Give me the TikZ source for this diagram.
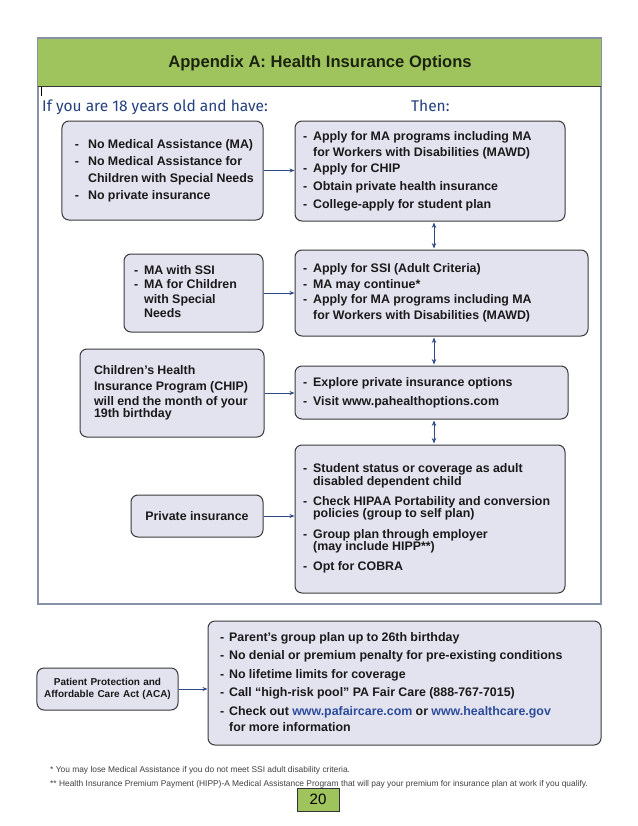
\documentclass[tikz,border=0pt]{standalone}
\usepackage{fontspec}
\setmainfont{Liberation Sans}
\newfontfamily\comic{Fira Sans}
\usetikzlibrary{arrows.meta}
\definecolor{hdrgreen}{HTML}{9FC45E}
\definecolor{framec}{HTML}{8792A8}
\definecolor{boxfill}{HTML}{E3E3F0}
\definecolor{boxline}{HTML}{3A3A3A}
\definecolor{arrc}{HTML}{2E4A86}
\definecolor{navy}{HTML}{24407E}
\definecolor{linkc}{HTML}{2B4C9B}
\definecolor{txt}{HTML}{1A1A1A}
\definecolor{hdrtxt}{HTML}{1C2410}
\newcommand\lst[3]{{\fontsize{12.4bp}{#1}\selectfont\begin{tabular}{@{}l@{\hspace{#2}}l@{}}#3\end{tabular}}}
\begin{document}
\begin{tikzpicture}[x=1bp,y=-1bp,
 box/.style={draw=boxline, fill=boxfill, line width=1bp, rounded corners=7bp, align=left, font=\bfseries, text=txt, inner ysep=0pt},
 arr/.style={draw=arrc, line width=0.9bp, -{Stealth[length=5bp,width=4bp]}},
 darr/.style={draw=arrc, line width=0.9bp, {Stealth[length=5.5bp,width=4.5bp]}-{Stealth[length=5.5bp,width=4.5bp]}, shorten <=1bp, shorten >=1bp},
 lbl/.style={inner sep=0pt, anchor=base west}]
\useasboundingbox (0,0) rectangle (638,826);
\fill[white] (0,0) rectangle (638,826);
% frame and header
\draw[framec, line width=2bp] (38,38) rectangle (601,604);
\fill[hdrgreen] (38,38) rectangle (601,86);
\draw[framec, line width=1bp] (38,38) -- (601,38) -- (601,86);
\draw[black!80, line width=1bp] (38,86) -- (601,86);
\node[inner sep=0pt, text=hdrtxt, font=\bfseries\fontsize{16.6bp}{18bp}\selectfont] (title) at (320,63) {Appendix A: Health Insurance Options};
\draw[black, line width=0.8bp] (41,87) -- (41,96);
\node[lbl, text=navy, font=\comic\fontsize{15.5bp}{17bp}\selectfont] (ifyou) at (42,111) {If you are 18 years old and have:};
\node[lbl, text=navy, font=\comic\fontsize{15.5bp}{17bp}\selectfont] (then) at (411,111) {Then:};
% left boxes
\node[box, minimum width=201bp, minimum height=99bp, text width=175bp, inner xsep=13bp] (A1) at (162.5,170.5)
 {\lst{17bp}{9bp}{- & No Medical Assistance (MA)\\ - & No Medical Assistance for\\ & Children with Special Needs\\ - & No private insurance}};
\node[box, minimum width=139bp, minimum height=78bp, text width=119bp, inner xsep=10bp] (A2) at (193.5,293)
 {\lst{14.5bp}{6bp}{- & MA with SSI\\ - & MA for Children\\ & with Special\\ & Needs}};
\node[box, minimum width=184bp, minimum height=88bp, text width=156bp, inner xsep=14bp] (A3) at (172,393)
 {\fontsize{12.4bp}{15.3bp}\selectfont Children’s Health\\Insurance Program (CHIP)\\will end the month of your\\19th birthday};
\node[box, minimum width=132bp, minimum height=42bp, text width=120bp, inner xsep=6bp, align=center] (A4) at (197,516)
 {\fontsize{12.4bp}{15bp}\selectfont Private insurance};
% right boxes
\node[box, minimum width=270bp, minimum height=100bp, text width=254bp, inner xsep=8bp] (B1) at (430,171)
 {\lst{16bp}{6bp}{- & Apply for MA programs including MA\\ & for Workers with Disabilities (MAWD)\\ - & Apply for CHIP\\[2bp] - & Obtain private health insurance\\[2bp] - & College-apply for student plan}};
\node[box, minimum width=293bp, minimum height=86bp, text width=277bp, inner xsep=8bp] (B2) at (441.5,293)
 {\lst{15.5bp}{6bp}{- & Apply for SSI (Adult Criteria)\\ - & MA may continue*\\ - & Apply for MA programs including MA\\ & for Workers with Disabilities (MAWD)}};
\node[box, minimum width=273bp, minimum height=53bp, text width=257bp, inner xsep=8bp] (B3) at (431.5,392.5)
 {\lst{19bp}{6bp}{- & Explore private insurance options\\ - & Visit www.pahealthoptions.com}};
\node[box, minimum width=270bp, minimum height=148bp, text width=254bp, inner xsep=8bp] (B4) at (430,519)
 {\lst{12.7bp}{6bp}{- & Student status or coverage as adult\\ & disabled dependent child\\[7.3bp] - & Check HIPAA Portability and conversion\\ & policies (group to self plan)\\[7.3bp] - & Group plan through employer\\ & (may include HIPP**)\\[7.3bp] - & Opt for COBRA}};
% connectors
\coordinate (col) at (434,0);
\draw[arr] (A1.east) -- (A1.east -| B1.west);
\draw[arr] (A2.east) -- (A2.east -| B2.west);
\draw[arr] (A3.east) -- (A3.east -| B3.west);
\draw[arr] (A4.east) -- (A4.east -| B4.west);
\draw[darr] (B1.south -| col) -- (B2.north -| col);
\draw[darr] (B2.south -| col) -- (B3.north -| col);
\draw[darr] (B3.south -| col) -- (B4.north -| col);
% ACA
\node[box, minimum width=141bp, minimum height=42bp, text width=137bp, inner xsep=2bp, align=center] (aca) at (107.5,689)
 {\fontsize{10bp}{17bp}\selectfont Patient Protection and\\Affordable Care Act (ACA)};
\node[box, minimum width=393bp, minimum height=124bp, text width=369bp, inner xsep=12bp] (acab) at (404.5,683)
 {\lst{16bp}{5bp}{- & Parent’s group plan up to 26th birthday\\[2.5bp] - & No denial or premium penalty for pre-existing conditions\\[2.5bp] - & No lifetime limits for coverage\\[2.5bp] - & Call “high-risk pool” PA Fair Care (888-767-7015)\\[2.5bp] - & Check out \textcolor{linkc}{www.pafaircare.com} or \textcolor{linkc}{www.healthcare.gov}\\ & for more information}};
\draw[arr] (aca.east) -- (aca.east -| acab.west);
% footnotes
\node[lbl, text=black!75, font=\fontsize{8.4bp}{10bp}\selectfont] (fn1) at (50,772) {* You may lose Medical Assistance if you do not meet SSI adult disability criteria.};
\node[lbl, text=black!75, font=\fontsize{8.4bp}{10bp}\selectfont] (fn2) at (50,786) {** Health Insurance Premium Payment (HIPP)-A Medical Assistance Program that will pay your premium for insurance plan at work if you qualify.};
\node[draw=black!80, fill=hdrgreen, line width=1bp, minimum width=42bp, minimum height=23bp, inner sep=0pt, font=\fontsize{15bp}{17bp}\selectfont] (pg) at (318,799.5) {20};
\end{tikzpicture}
\end{document}
